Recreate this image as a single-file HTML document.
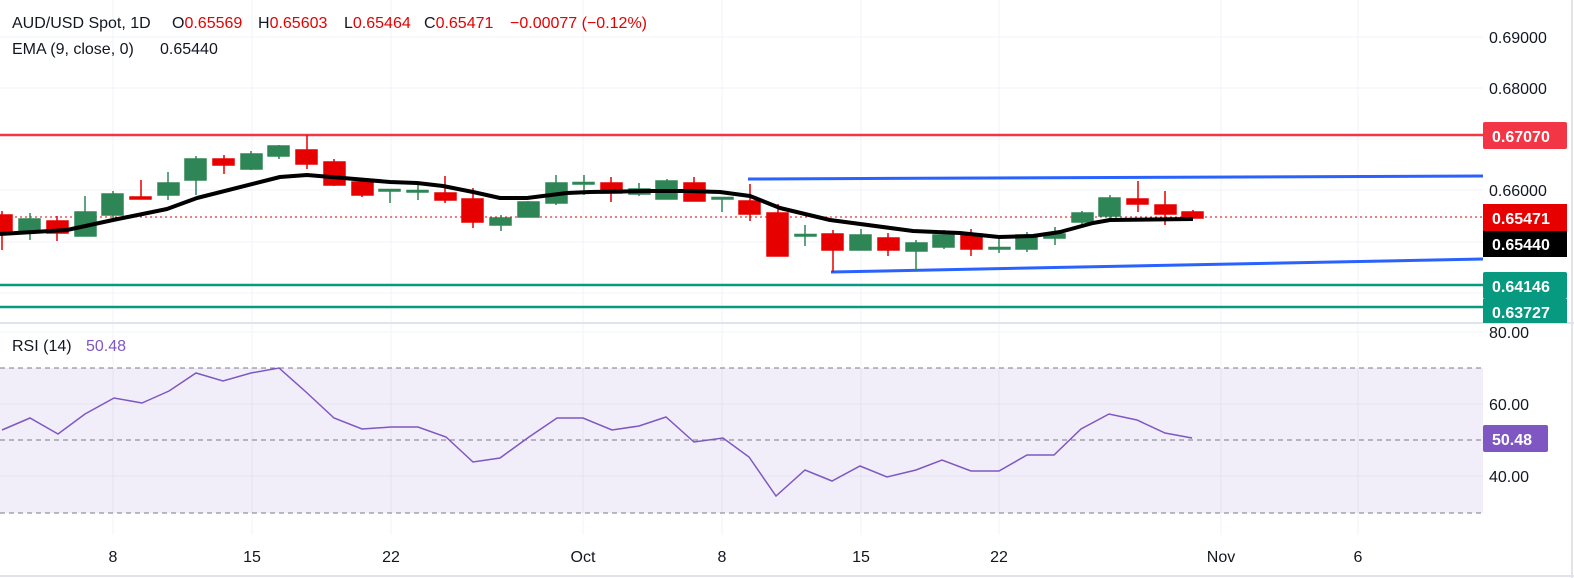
<!DOCTYPE html>
<html><head><meta charset="utf-8"><style>
html,body{margin:0;padding:0;background:#fff;}
svg{display:block;font-family:"Liberation Sans",sans-serif;}
</style></head><body>
<svg width="1574" height="578" viewBox="0 0 1574 578" xmlns="http://www.w3.org/2000/svg">
<rect width="1574" height="578" fill="#fff"/>
<g stroke="#f0f3fa" stroke-width="1">
<line x1="0" y1="37" x2="1483" y2="37"/><line x1="0" y1="88" x2="1483" y2="88"/><line x1="0" y1="139" x2="1483" y2="139"/>
<line x1="0" y1="190" x2="1483" y2="190"/><line x1="0" y1="242" x2="1483" y2="242"/><line x1="0" y1="293" x2="1483" y2="293"/>
<line x1="0" y1="332" x2="1483" y2="332"/>
<line x1="113" y1="0" x2="113" y2="535"/><line x1="252" y1="0" x2="252" y2="535"/><line x1="391" y1="0" x2="391" y2="535"/>
<line x1="583" y1="0" x2="583" y2="535"/><line x1="722" y1="0" x2="722" y2="535"/><line x1="861" y1="0" x2="861" y2="535"/>
<line x1="999" y1="0" x2="999" y2="535"/><line x1="1221" y1="0" x2="1221" y2="535"/><line x1="1358" y1="0" x2="1358" y2="535"/>
</g>
<line x1="0" y1="323" x2="1574" y2="323" stroke="#e0e3eb" stroke-width="2"/>
<rect x="0" y="368" width="1483" height="145" fill="#7e57c2" fill-opacity="0.1"/>
<g stroke="#e6e1f0" stroke-width="1"><line x1="0" y1="404" x2="1483" y2="404"/><line x1="0" y1="476" x2="1483" y2="476"/></g>
<g stroke="#787b86" stroke-width="1" stroke-dasharray="5,4">
<line x1="0" y1="368" x2="1483" y2="368"/><line x1="0" y1="440" x2="1483" y2="440"/><line x1="0" y1="513" x2="1483" y2="513"/></g>
<polyline fill="none" stroke="#7e57c2" stroke-width="1.5" points="2,430 30,418 58,434 85,414 114,398 142,403 169,391 196,373 223,381 251,373 279,368 306,392 334,418 362,429 391,427 418,427 446,437 473,462 500,458 529,437 557,418 583,418 612,430 639,426 666,417 694,442 723,438 749,457 776,496 805,470 832,481 860,466 887,477 916,470 942,460 971,471 999,471 1027,455 1054,455 1081,429 1109,414 1137,420 1165,433 1192,438"/>
<line x1="0" y1="135" x2="1483" y2="135" stroke="#f23645" stroke-width="2.5"/>
<line x1="0" y1="285" x2="1483" y2="285" stroke="#089981" stroke-width="2.5"/>
<line x1="0" y1="307" x2="1483" y2="307" stroke="#089981" stroke-width="2.5"/>
<line x1="0" y1="217" x2="1483" y2="217" stroke="#e60000" stroke-width="1" stroke-dasharray="2,3"/>
<line x1="748" y1="179" x2="1483" y2="176" stroke="#2962ff" stroke-width="3"/>
<line x1="831" y1="272" x2="1483" y2="259" stroke="#2962ff" stroke-width="3"/>
<g stroke-width="1.5">
<g stroke="#e60000" fill="#e60000">
<line x1="2" y1="211" x2="2" y2="250"/><rect x="-9" y="215" width="21" height="17"/>
<line x1="57" y1="216" x2="57" y2="241"/><rect x="47" y="221" width="21" height="12"/>
<line x1="141" y1="180" x2="141" y2="199"/><rect x="130" y="197" width="21" height="2"/>
<line x1="224" y1="155" x2="224" y2="174"/><rect x="213" y="159" width="21" height="6"/>
<line x1="307" y1="135" x2="307" y2="169"/><rect x="296" y="150" width="21" height="14"/>
<line x1="334" y1="159" x2="334" y2="186"/><rect x="324" y="162" width="21" height="23"/>
<line x1="362" y1="180" x2="362" y2="197"/><rect x="352" y="182" width="21" height="13"/>
<line x1="445" y1="176" x2="445" y2="203"/><rect x="435" y="193" width="21" height="7"/>
<line x1="473" y1="188" x2="473" y2="228"/><rect x="462" y="199" width="21" height="23"/>
<line x1="611" y1="177" x2="611" y2="202"/><rect x="601" y="183" width="21" height="10"/>
<line x1="694" y1="177" x2="694" y2="201"/><rect x="684" y="183" width="21" height="18"/>
<line x1="750" y1="184" x2="750" y2="221"/><rect x="739" y="201" width="21" height="13"/>
<line x1="778" y1="204" x2="778" y2="256"/><rect x="767" y="213" width="21" height="43"/>
<line x1="833" y1="230" x2="833" y2="272"/><rect x="822" y="234" width="21" height="16"/>
<line x1="888" y1="233" x2="888" y2="256"/><rect x="878" y="238" width="21" height="12"/>
<line x1="971" y1="229" x2="971" y2="256"/><rect x="961" y="234" width="21" height="15"/>
<line x1="1138" y1="181" x2="1138" y2="212"/><rect x="1127" y="199" width="21" height="5"/>
<line x1="1165" y1="191" x2="1165" y2="225"/><rect x="1155" y="205" width="21" height="9"/>
<line x1="1193" y1="210" x2="1193" y2="218"/><rect x="1182" y="212" width="21" height="6"/>
</g>
<g stroke="#2e8555" fill="#2e8555">
<line x1="30" y1="213" x2="30" y2="240"/><rect x="19" y="219" width="21" height="13"/>
<line x1="85" y1="196" x2="85" y2="236"/><rect x="75" y="212" width="21" height="24"/>
<line x1="113" y1="191" x2="113" y2="218"/><rect x="102" y="194" width="21" height="21"/>
<line x1="168" y1="172" x2="168" y2="200"/><rect x="158" y="183" width="21" height="12"/>
<line x1="196" y1="156" x2="196" y2="195"/><rect x="185" y="159" width="21" height="21"/>
<line x1="251" y1="151" x2="251" y2="170"/><rect x="241" y="154" width="21" height="15"/>
<line x1="279" y1="145" x2="279" y2="159"/><rect x="268" y="146" width="21" height="10"/>
<line x1="390" y1="190" x2="390" y2="203"/><rect x="379" y="189.5" width="21" height="1.5"/>
<line x1="418" y1="182" x2="418" y2="200"/><rect x="407" y="190.5" width="21" height="1.5"/>
<line x1="501" y1="215" x2="501" y2="231"/><rect x="490" y="218" width="21" height="7"/>
<line x1="528" y1="201" x2="528" y2="217"/><rect x="518" y="202" width="21" height="15"/>
<line x1="556" y1="175" x2="556" y2="205"/><rect x="546" y="183" width="21" height="20"/>
<line x1="584" y1="175" x2="584" y2="195"/><rect x="573" y="182.5" width="21" height="1.5"/>
<line x1="639" y1="183" x2="639" y2="196"/><rect x="629" y="189" width="21" height="5"/>
<line x1="667" y1="179" x2="667" y2="199"/><rect x="656" y="181" width="21" height="18"/>
<line x1="722" y1="197" x2="722" y2="212"/><rect x="712" y="197.5" width="21" height="1.5"/>
<line x1="805" y1="225" x2="805" y2="246"/><rect x="795" y="234.5" width="21" height="1.5"/>
<line x1="861" y1="229" x2="861" y2="250"/><rect x="850" y="235" width="21" height="15"/>
<line x1="916" y1="240" x2="916" y2="271"/><rect x="906" y="243" width="21" height="8"/>
<line x1="944" y1="230" x2="944" y2="249"/><rect x="933" y="235" width="21" height="12"/>
<line x1="999" y1="236" x2="999" y2="253"/><rect x="989" y="247.5" width="21" height="1.5"/>
<line x1="1027" y1="232" x2="1027" y2="252"/><rect x="1016" y="235" width="21" height="14"/>
<line x1="1055" y1="227" x2="1055" y2="245"/><rect x="1044" y="234" width="21" height="4"/>
<line x1="1082" y1="211" x2="1082" y2="227"/><rect x="1072" y="213" width="21" height="9"/>
<line x1="1110" y1="195" x2="1110" y2="219"/><rect x="1099" y="198" width="21" height="18"/>
</g>
</g>
<polyline fill="none" stroke="#000" stroke-width="4" stroke-linejoin="round" points="0,234 67,230 113,220 167,209 197,198 280,177 307,175 343,178 390,182 417,183 443,186 473,192 500,198 527,198 567,193 590,192 647,191 687,191 720,192 750,196 780,208 830,220 913,231 960,233 999,237 1033,236 1060,232 1093,223 1110,220 1193,219"/>
<line x1="1572" y1="0" x2="1572" y2="578" stroke="#e0e3eb" stroke-width="2"/>
<line x1="0" y1="576" x2="1574" y2="576" stroke="#e0e3eb" stroke-width="2"/>
<g font-size="16" fill="#131722">
<text x="1489" y="43">0.69000</text>
<text x="1489" y="94">0.68000</text>
<text x="1489" y="196">0.66000</text>
<text x="1489" y="338">80.00</text>
<text x="1489" y="410">60.00</text>
<text x="1489" y="482">40.00</text>
</g>
<rect x="1483" y="122" width="84" height="27" rx="2" fill="#f23645"/>
<rect x="1483" y="204" width="84" height="27" fill="#e60000"/>
<rect x="1483" y="231" width="84" height="26" fill="#000"/>
<rect x="1483" y="272" width="84" height="27" rx="2" fill="#089981"/>
<rect x="1483" y="299" width="84" height="24" fill="#089981"/>
<rect x="1483" y="425" width="65" height="27" rx="2" fill="#7e57c2"/>
<g font-size="16" fill="#fff" font-weight="bold">
<text x="1492" y="142">0.67070</text>
<text x="1492" y="224">0.65471</text>
<text x="1492" y="250">0.65440</text>
<text x="1492" y="292">0.64146</text>
<text x="1492" y="318">0.63727</text>
<text x="1492" y="445">50.48</text>
</g>
<g font-size="16" fill="#131722" text-anchor="middle">
<text x="113" y="562">8</text><text x="252" y="562">15</text><text x="391" y="562">22</text>
<text x="583" y="562">Oct</text><text x="722" y="562">8</text><text x="861" y="562">15</text>
<text x="999" y="562">22</text><text x="1221" y="562">Nov</text><text x="1358" y="562">6</text>
</g>
<g font-size="16" fill="#131722">
<text x="12" y="28">AUD/USD Spot, 1D</text>
<text x="172" y="28">O<tspan fill="#e60000">0.65569</tspan></text>
<text x="258" y="28">H<tspan fill="#e60000">0.65603</tspan></text>
<text x="344" y="28">L<tspan fill="#e60000">0.65464</tspan></text>
<text x="424" y="28">C<tspan fill="#e60000">0.65471</tspan></text>
<text x="510" y="28" fill="#e60000">−0.00077 (−0.12%)</text>
<text x="12" y="54">EMA (9, close, 0)</text>
<text x="160" y="54">0.65440</text>
<text x="12" y="351">RSI (14)</text>
<text x="86" y="351" fill="#7e57c2">50.48</text>
</g>
</svg>
</body></html>
